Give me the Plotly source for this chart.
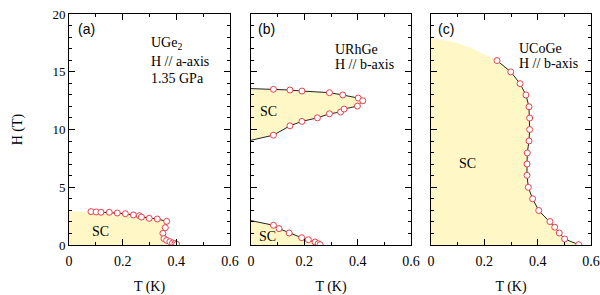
import plotly.graph_objects as go

# ---------------- data ----------------
# (a) UGe2, H // a-axis, 1.35 GPa
a_T = [0.082, 0.101, 0.119, 0.150, 0.180, 0.210, 0.240, 0.262, 0.270, 0.299, 0.329,
       0.364, 0.359, 0.350, 0.354, 0.364, 0.376, 0.386, 0.395, 0.401]
a_H = [2.89, 2.86, 2.83, 2.83, 2.77, 2.71, 2.60, 2.54, 2.42, 2.31, 2.25,
       2.05, 1.50, 1.01, 0.55, 0.40, 0.29, 0.17, 0.12, 0.06]
a_fill_T0_H = 2.92   # fill height at T = 0

# (b) URhGe, H // b-axis : high-field pocket
b_up_T = [0.084, 0.146, 0.191, 0.294, 0.344, 0.402, 0.419]
b_up_H = [13.48, 13.42, 13.33, 13.19, 12.99, 12.72, 12.49]
b_lo_T = [0.084, 0.146, 0.191, 0.249, 0.294, 0.336, 0.349, 0.399]
b_lo_H = [9.51, 10.32, 10.70, 11.01, 11.36, 11.51, 11.77, 12.03]
b_up_T0_H = 13.54
b_lo_T0_H = 9.07
# (b) low-field pocket
b_low_T = [0.084, 0.105, 0.143, 0.190, 0.215, 0.240, 0.252, 0.259]
b_low_H = [1.71, 1.42, 1.04, 0.63, 0.46, 0.26, 0.11, 0.03]
b_low_T0_H = 2.11
b_low_Tc = 0.269

# (c) UCoGe, H // b-axis
c_T = [0.2475, 0.299, 0.334, 0.356, 0.3675, 0.370, 0.370, 0.3675, 0.361, 0.360,
       0.360, 0.365, 0.381, 0.404, 0.446, 0.464, 0.481, 0.501, 0.554]
c_H = [15.97, 14.99, 13.97, 12.99, 11.97, 10.99, 10.00, 9.01, 7.97, 7.01,
       6.03, 4.99, 4.00, 2.99, 2.03, 1.54, 1.04, 0.52, 0.03]
# fill boundary above the first measured point (read from shading edge)
c_edge_T = [0.0, 0.084, 0.146, 0.208]
c_edge_H = [17.89, 17.59, 17.10, 16.43]

x_ticks = [0, 0.2, 0.4, 0.6]
x_ticklabels = ["0", "0.2", "0.4", "0.6"]
y_ticks = [0, 5, 10, 15, 20]

# ---------------- style ----------------
FILL = "#FFF8C6"
RED = "#E8414F"
LINE = "#222222"
SERIF = "Liberation Serif, Times New Roman, serif"
SANS = "Liberation Sans, Arial, sans-serif"

fig = go.Figure()


def add_fill(xs, ys, ax):
    fig.add_trace(go.Scatter(x=xs, y=ys, fill="toself", fillcolor=FILL,
                             line=dict(width=0), mode="lines", hoverinfo="skip",
                             showlegend=False, xaxis=ax[0], yaxis=ax[1]))


def add_line(xs, ys, ax):
    fig.add_trace(go.Scatter(x=xs, y=ys, mode="lines",
                             line=dict(color=LINE, width=1),
                             showlegend=False, xaxis=ax[0], yaxis=ax[1]))


def add_pts(xs, ys, ax):
    fig.add_trace(go.Scatter(x=xs, y=ys, mode="markers",
                             marker=dict(symbol="circle", size=6, color="white",
                                         line=dict(color=RED, width=1)),
                             showlegend=False, xaxis=ax[0], yaxis=ax[1]))


A = ("x", "y")
B = ("x2", "y2")
C = ("x3", "y3")

# panel a
add_fill([0] + a_T + [a_T[-1], 0], [a_fill_T0_H] + a_H + [0, 0], A)
add_line(a_T, a_H, A)
add_pts(a_T, a_H, A)

# panel b upper pocket
bx = [0] + b_up_T + b_lo_T[::-1] + [0]
by = [b_up_T0_H] + b_up_H + b_lo_H[::-1] + [b_lo_T0_H]
add_fill(bx, by, B)
add_line(bx, by, B)
add_pts(b_up_T + b_lo_T, b_up_H + b_lo_H, B)

# panel b lower pocket
add_fill([0] + b_low_T + [b_low_Tc, 0], [b_low_T0_H] + b_low_H + [0, 0], B)
add_line([0] + b_low_T + [b_low_Tc], [b_low_T0_H] + b_low_H + [0], B)
add_pts(b_low_T, b_low_H, B)

# panel c
add_fill(c_edge_T + c_T + [c_T[-1], 0], c_edge_H + c_H + [0, 0], C)
add_line(c_T, c_H, C)
add_pts(c_T, c_H, C)

# ---------------- axes ----------------
domains = [[0, 0.3084], [0.3487, 0.6552], [0.6935, 1.0]]
for i, dom in enumerate(domains):
    sfx = "" if i == 0 else str(i + 1)
    yax = dict(
        domain=[0, 1], range=[0, 20], tickvals=y_ticks,
        ticks="inside", ticklen=6, tickwidth=1, tickcolor="black",
        minor=dict(dtick=1, tick0=0, ticks="inside", ticklen=3, tickcolor="black"),
        showline=True, linecolor="black", linewidth=1, mirror="ticks",
        showgrid=False, zeroline=False, showticklabels=(i == 0),
        tickfont=dict(family=SERIF, size=13, color="black"),
        automargin=False, anchor="x" + sfx)
    if i == 0:
        yax["title"] = dict(text="H (T)", font=dict(family=SERIF, size=14, color="black"),
                            standoff=26)
    fig.update_layout(**{
        "xaxis" + sfx: dict(
            domain=dom, range=[0, 0.6], tickvals=x_ticks, ticktext=x_ticklabels,
            ticks="inside", ticklen=6, tickwidth=1, tickcolor="black",
            minor=dict(dtick=0.1, tick0=0, ticks="inside", ticklen=3, tickcolor="black"),
            showline=True, linecolor="black", linewidth=1, mirror="ticks",
            showgrid=False, zeroline=False, ticklabelstandoff=3,
            tickfont=dict(family=SERIF, size=14, color="black"),
            title=dict(text="T (K)", font=dict(family=SERIF, size=14, color="black"),
                       standoff=13),
            automargin=False, anchor="y" + sfx),
        "yaxis" + sfx: yax,
    })

# ---------------- annotations ----------------
ann = []


def txt(ax, x, y, s, fam=SERIF, size=14, xanchor="left"):
    ann.append(dict(xref=ax[0], yref=ax[1], x=x, y=y, text=s, showarrow=False,
                    xanchor=xanchor, yanchor="middle",
                    font=dict(family=fam, size=size, color="black")))


txt(A, 0.025, 18.7, "(a)", SANS, 14)
txt(B, 0.020, 18.7, "(b)", SANS, 14)
txt(C, 0.020, 18.7, "(c)", SANS, 14)

txt(A, 0.298, 17.45, "UGe<sub>2</sub>")
txt(A, 0.298, 15.85, "H // a-axis")
txt(A, 0.298, 14.4, "1.35 GPa")
txt(B, 0.3075, 16.96, "URhGe")
txt(B, 0.3075, 15.65, "H // b-axis")
txt(C, 0.3225, 17.04, "UCoGe")
txt(C, 0.3225, 15.74, "H // b-axis")

txt(A, 0.116, 1.21, "SC", xanchor="center")
txt(B, 0.064, 11.57, "SC", xanchor="center")
txt(B, 0.060, 0.70, "SC", xanchor="center")
txt(C, 0.135, 7.04, "SC", xanchor="center")

fig.update_layout(
    width=600, height=295,
    margin=dict(l=69, r=9, t=14, b=50),
    paper_bgcolor="white", plot_bgcolor="white",
    annotations=ann, showlegend=False,
)

fig.write_html("out.html", config={"displayModeBar": False},
               post_script="document.body.style.margin='0px';"
                           "document.body.style.overflow='hidden';")
